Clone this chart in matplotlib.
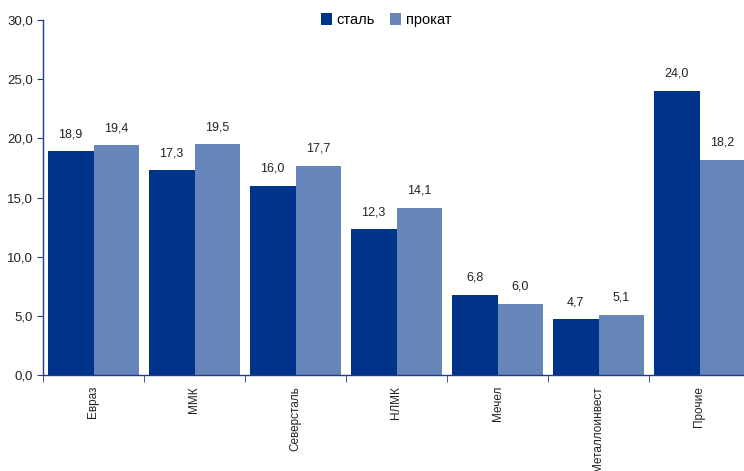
import matplotlib
matplotlib.use("Agg")
import matplotlib.pyplot as plt
import numpy as np

plt.rcParams['font.family'] = ['Liberation Sans', 'DejaVu Sans']

categories = ["Евраз", "ММК", "Северсталь", "НЛМК", "Мечел", "Металлоинвест", "Прочие"]
steel = [18.9, 17.3, 16.0, 12.3, 6.8, 4.7, 24.0]
rolled = [19.4, 19.5, 17.7, 14.1, 6.0, 5.1, 18.2]
yticks = [0, 5, 10, 15, 20, 25, 30]

c_steel = "#00338A"
c_rolled = "#6685B8"
axis_c = "#1F3B8C"

fig = plt.figure(figsize=(7.44, 4.71), dpi=100)
ax = fig.add_axes([43/744, 1-375/471, 707/744, (375-20)/471])

x = np.arange(len(categories))
w = 0.455
b1 = ax.bar(x - w/2, steel, w, color=c_steel, label="сталь")
b2 = ax.bar(x + w/2, rolled, w, color=c_rolled, label="прокат")

for bars, vals in ((b1, steel), (b2, rolled)):
    for r, v in zip(bars, vals):
        ax.text(r.get_x() + r.get_width()/2, v + 0.95, f"{v:.1f}".replace(".", ","),
                ha="center", va="bottom", fontsize=9, color="#222222")

ax.set_xlim(-0.5, len(categories) - 0.5)
ax.set_ylim(0, 30)
ax.set_yticks(yticks)
ax.set_yticklabels([f"{t:.1f}".replace(".", ",") for t in yticks], fontsize=9.5, color="#222222")
ax.set_xticks(x)
ax.set_xticklabels(categories, rotation=90, fontsize=8.5, color="#222222")
ax.tick_params(axis="x", length=0, pad=8)
ax.set_xticks(np.arange(len(categories) + 1) - 0.5, minor=True)
ax.tick_params(axis="x", which="minor", length=5, color=axis_c, direction="out")
ax.tick_params(axis="y", length=4, color=axis_c, direction="out", pad=3)

for s in ("top", "right"):
    ax.spines[s].set_visible(False)
for s in ("left", "bottom"):
    ax.spines[s].set_color(axis_c)
    ax.spines[s].set_linewidth(1)

fig.legend(handles=[b1, b2], loc="center", bbox_to_anchor=(386/744, 1-20/471), ncol=2,
           frameon=False, fontsize=10.5, handlelength=0.8, handleheight=0.8,
           handletextpad=0.3, columnspacing=1.0)

fig.savefig("out.png", dpi=100)
